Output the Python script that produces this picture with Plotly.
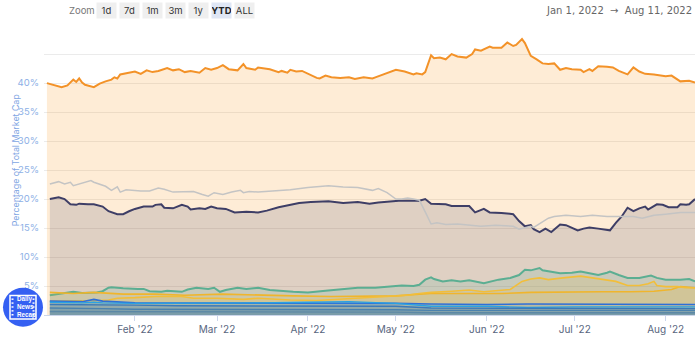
import plotly.graph_objects as go

# ---------------- data (percent of total market cap) ----------------
btc_dates = ["01-02","01-05","01-07","01-09","01-11","01-12","01-13","01-14","01-15","01-18","01-20","01-22","01-24","01-25","01-26","01-27","01-30",
             "02-01","02-03","02-05","02-07","02-09","02-12","02-14","02-16","02-18","02-20","02-23","02-25","02-27",
             "03-01","03-03","03-05","03-08","03-10","03-11","03-14","03-15","03-19","03-22","03-23","03-25","03-26","03-28","03-30",
             "04-01","04-04","04-05","04-07","04-09","04-12","04-15","04-17","04-20","04-23","04-24","04-26","04-29",
             "05-01","05-04","05-07","05-08","05-10","05-11","05-13","05-14","05-16","05-18","05-20","05-22","05-25","05-27","05-28","05-30",
             "06-02","06-03","06-06","06-08","06-10","06-11","06-13","06-14","06-16","06-18","06-20","06-22","06-24","06-26","06-28","06-30",
             "07-03","07-04","07-06","07-07","07-09","07-12","07-14","07-16","07-19","07-21","07-23","07-25","07-28",
             "08-01","08-03","08-06","08-09","08-11"]
btc_vals = [40.0,39.5,39.3,39.6,40.6,40.2,40.8,40.1,39.7,39.3,39.9,40.3,40.6,41.0,40.8,41.5,41.8,
            42.0,41.6,42.2,41.9,42.1,42.6,42.2,42.4,41.9,42.1,41.8,42.6,42.3,
            42.6,43.1,42.4,42.2,43.3,42.6,42.3,42.7,42.4,41.9,42.1,41.8,42.3,42.0,42.1,
            41.6,40.9,40.8,41.3,41.0,40.9,41.0,40.7,41.0,40.8,41.0,41.4,42.0,
            42.3,42.0,41.5,41.7,41.5,41.9,44.8,44.3,44.4,44.1,45.0,44.6,44.4,45.0,45.8,45.6,
            46.3,46.1,46.1,47.0,46.4,46.6,47.6,46.9,44.7,44.1,43.4,43.3,43.4,42.3,42.6,42.4,
            42.3,41.9,42.4,42.1,42.9,42.8,42.7,42.1,41.5,42.7,42.0,41.6,41.5,
            41.2,41.3,40.3,40.4,40.1]

eth_dates = ["01-03","01-06","01-08","01-10","01-12","01-13","01-16","01-18","01-21","01-23","01-26","01-28","01-30",
             "02-01","02-04","02-07","02-08","02-10","02-11","02-14","02-17","02-19","02-20","02-23","02-25","02-27",
             "03-01","03-04","03-07","03-11","03-15","03-18","03-22","03-26","03-29",
             "04-02","04-08","04-13","04-18","04-22","04-25",
             "05-02","05-09","05-11","05-13","05-18","05-20","05-26","05-28","05-31",
             "06-02","06-06","06-10","06-12","06-14","06-16","06-17","06-19","06-21","06-23","06-26","06-28",
             "07-02","07-04","07-06","07-09","07-13","07-15","07-17","07-19","07-21","07-23","07-25","07-26","07-29","07-31",
             "08-02","08-05","08-06","08-08","08-09","08-11"]
eth_vals = [20.0,20.3,20.0,19.1,19.0,19.2,19.1,19.1,18.7,17.9,17.4,17.4,17.9,
            18.3,18.7,18.7,19.0,19.1,18.5,18.4,19.0,18.7,18.2,18.4,18.3,18.7,
            18.4,18.3,17.7,17.8,17.7,18.0,18.6,19.0,19.3,
            19.5,19.6,19.3,19.5,19.2,19.4,
            19.7,19.7,20.0,19.2,19.1,18.8,18.8,17.7,18.3,
            17.7,17.6,17.4,16.2,15.3,15.5,14.8,14.3,14.9,14.3,15.6,15.5,
            14.6,14.9,15.1,14.9,14.6,15.9,17.0,18.5,17.9,18.4,18.7,18.2,19.1,19.0,
            18.6,18.6,19.1,19.0,19.1,20.0]

oth_dates = ["01-03","01-06","01-08","01-10","01-11","01-14","01-17","01-18","01-20","01-22","01-24","01-26","01-27","01-29",
             "02-03","02-06","02-09","02-11","02-14","02-19","02-21","02-24","02-26","02-28",
             "03-03","03-06","03-09","03-10","03-12","03-15","03-19","03-26",
             "04-01","04-08","04-13","04-18","04-23","04-25","04-28",
             "05-01","05-03","05-05","05-07","05-09","05-11","05-13","05-15","05-18","05-22","05-26","05-30",
             "06-04","06-10","06-12","06-14","06-16","06-17","06-19","06-22","06-24","06-28",
             "07-03","07-07","07-12","07-16","07-21","07-24","07-28",
             "08-01","08-06","08-11"]
oth_vals = [22.6,23.0,22.6,22.9,22.3,22.8,23.2,22.9,22.6,22.2,21.5,22.1,21.2,21.6,
            21.4,21.4,21.9,21.7,21.2,21.2,21.3,20.8,20.5,21.1,
            20.8,21.2,21.5,21.1,21.3,21.2,21.3,21.6,
            22.0,22.3,22.1,22.0,21.5,21.8,21.1,
            20.0,20.0,20.2,20.0,19.8,17.8,15.7,15.9,15.6,15.7,15.5,15.3,
            15.5,15.3,14.8,15.1,15.3,15.1,15.7,16.7,17.0,17.2,
            17.0,17.2,17.0,17.0,17.0,16.7,17.2,
            17.4,17.7,17.7]

usdt_dates = ["01-03","01-07","01-11","01-14","01-19","01-21","01-23","01-24","01-28",
              "02-02","02-04","02-06","02-10","02-12","02-17","02-19","02-22","02-26","02-28",
              "03-02","03-04","03-08","03-11","03-15","03-19","03-27",
              "04-01","04-07","04-13","04-18","04-24","04-28",
              "05-03","05-07","05-09","05-11","05-13","05-14","05-17","05-20","05-23","05-26","05-31",
              "06-05","06-09","06-12","06-14","06-16","06-18","06-19","06-20","06-23","06-26","06-30",
              "07-03","07-06","07-09","07-12","07-13","07-16","07-19","07-23","07-25","07-27","07-29",
              "08-01","08-06","08-09","08-11"]
usdt_vals = [3.4,3.7,4.0,3.8,3.9,4.1,4.7,4.8,4.6,
             4.5,4.5,4.1,4.0,4.2,4.0,4.4,4.7,4.5,4.7,
             4.0,4.3,4.7,4.5,4.7,4.3,4.0,
             3.9,4.2,4.5,4.7,4.7,4.9,
             5.1,5.0,5.2,6.1,6.5,6.2,5.8,6.0,5.8,6.0,5.5,
             6.1,6.4,6.9,7.8,7.7,7.9,8.1,7.7,7.5,7.2,7.3,
             7.5,7.2,6.9,7.3,7.5,6.9,6.4,6.4,6.6,6.8,6.4,
             6.1,6.1,6.2,5.8]

bnb_dates = ["01-03","01-11","01-18","01-28","02-08","02-18","03-03","03-15","03-27","04-09","04-20",
             "05-01","05-09","05-13","05-20","05-26","06-06","06-16","06-28","07-10","07-20","07-28",
             "08-03","08-06","08-11"]
bnb_vals = [3.9,3.7,3.9,3.6,3.6,3.4,3.6,3.4,3.3,3.2,3.3,
            3.3,3.6,3.7,3.7,3.7,3.7,3.9,4.0,4.0,4.0,4.1,
            4.4,4.9,4.7]

usdc_dates = ["01-03","01-15","01-20","01-23","01-26","02-01","02-08","02-17","02-21","03-01","03-10","03-15","03-26",
              "04-04","04-12","04-22","04-29","05-05","05-09","05-13","05-20","05-26","05-31",
              "06-05","06-09","06-13","06-16","06-19","06-22","06-27",
              "07-03","07-07","07-12","07-15","07-19","07-23","07-26","07-28","07-29",
              "08-01","08-05","08-08","08-11"]
usdc_vals = [2.4,2.4,2.5,2.6,2.9,3.0,3.2,3.2,2.9,2.9,2.7,2.9,2.6,
             2.5,2.7,3.0,3.2,3.4,3.7,3.9,4.1,4.3,4.0,
             4.2,4.4,5.8,6.2,6.4,6.1,6.4,
             6.7,6.4,6.1,5.8,5.1,5.1,5.4,5.8,5.1,
             4.9,4.9,4.7,4.7]

small_dates = ["01-03","01-14","01-18","01-21","02-01","02-15","03-01","03-15","04-01","04-15",
               "05-01","05-13","06-01","06-15","07-01","07-15","08-01","08-11"]
xrp_vals  = [2.4,2.3,2.7,2.4,2.1,2.1,2.0,2.0,2.1,2.0,2.0,1.9,1.8,1.9,1.9,1.9,1.8,1.8]
ada_vals  = [2.2,2.1,2.2,2.1,2.0,2.0,2.0,2.1,2.2,2.3,2.0,1.5,1.5,1.3,1.4,1.4,1.4,1.4]
sol_vals  = [1.8,1.8,1.8,1.7,1.7,1.6,1.6,1.6,1.6,1.6,1.5,1.2,1.2,1.1,1.1,1.1,1.1,1.1]
doge_vals = [1.2,1.2,1.1,1.1,1.0,1.0,1.0,0.9,0.9,0.9,0.9,0.8,0.8,0.8,0.8,0.8,0.8,0.8]
dot_vals  = [0.6,0.6,0.6,0.5,0.5,0.5,0.5,0.5,0.5,0.5,0.5,0.4,0.4,0.4,0.4,0.4,0.4,0.4]

y_tick_vals = [5, 10, 15, 20, 25, 30, 35, 40, 45]
y_tick_text = ["5%", "10%", "15%", "20%", "25%", "30%", "35%", "40%", ""]
zoom_buttons = ["1d", "7d", "1m", "3m", "1y", "YTD", "ALL"]
active_button = "YTD"

# ---------------- figure ----------------
W, H = 700, 340
ML, MR, MT, MB = 44, 5, 30, 17
Y_MAX = 49.16


def full(ds):
    return ["2022-" + s for s in ds]


def px(x):
    return (x - ML) / (W - ML - MR)


def py(y):
    return (H - MB - y) / (H - MT - MB)


series = [
    (btc_dates, btc_vals, "Bitcoin", "#F39228", 2.0, "rgba(247,147,26,0.18)"),
    (eth_dates, eth_vals, "Ethereum", "#3E3E66", 2.0, "rgba(62,62,100,0.16)"),
    (oth_dates, oth_vals, "Others", "#C4C4C4", 1.5, None),
    (usdt_dates, usdt_vals, "Tether", "#5BAE92", 2.0, "rgba(80,175,149,0.16)"),
    (bnb_dates, bnb_vals, "BNB", "#F0B52C", 1.6, "rgba(243,186,47,0.13)"),
    (usdc_dates, usdc_vals, "USD Coin", "#F2BE3A", 1.6, "rgba(243,186,47,0.13)"),
    (small_dates, xrp_vals, "XRP", "#2F6FD8", 1.6, "rgba(47,111,216,0.14)"),
    (small_dates, ada_vals, "Cardano", "#2AA2E2", 1.4, "rgba(42,162,226,0.14)"),
    (small_dates, sol_vals, "Solana", "#3C79B8", 1.4, "rgba(60,121,184,0.18)"),
    (small_dates, doge_vals, "Dogecoin", "#4A82AE", 1.4, "rgba(74,130,174,0.2)"),
    (small_dates, dot_vals, "Polkadot", "#5B88A6", 1.4, "rgba(91,136,166,0.2)"),
]

fig = go.Figure()
for ds, vs, name, col, lw, fc in series:
    fig.add_trace(go.Scatter(
        x=full(ds), y=vs, name=name, mode="lines",
        line=dict(color=col, width=lw),
        fill="tozeroy" if fc else None,
        fillcolor=fc,
        hoverinfo="skip",
    ))

FONT = "Inter, Roboto, Arial, sans-serif"

fig.update_layout(
    width=W, height=H,
    margin=dict(l=ML, r=MR, t=MT, b=MB, pad=0),
    paper_bgcolor="white", plot_bgcolor="white",
    showlegend=False,
    font=dict(family=FONT, size=10, color="#555"),
    xaxis=dict(
        type="date",
        range=["2022-01-01", "2022-08-11"],
        tickvals=["2022-02-01", "2022-03-01", "2022-04-01", "2022-05-01",
                  "2022-06-01", "2022-07-01", "2022-08-01"],
        tickformat="%b '%y",
        showgrid=False,
        ticks="outside", ticklen=5, tickcolor="#ccd6eb", tickwidth=1,
        showline=True, linecolor="#ccd6eb", linewidth=1,
        tickfont=dict(size=10, color="#58667e"),
        zeroline=False,
    ),
    yaxis=dict(
        range=[0, Y_MAX],
        tickvals=y_tick_vals, ticktext=y_tick_text,
        showgrid=True, gridcolor="#ebebeb", gridwidth=1,
        zeroline=False, showline=False,
        tickfont=dict(size=9.5, color="#8DB0E6"),
        ticklabelstandoff=4,
    ),
)

# y-axis title
fig.add_annotation(
    text="Percentage of Total Market Cap", textangle=-90,
    xref="paper", yref="paper", x=px(15), y=py(164),
    showarrow=False, font=dict(size=8.8, color="#7FA6E3", family=FONT),
    xanchor="center", yanchor="middle",
)

# zoom toolbar
fig.add_annotation(text="Zoom", xref="paper", yref="paper", x=px(82), y=py(10),
                   showarrow=False, font=dict(size=9.5, color="#777", family=FONT),
                   xanchor="center", yanchor="middle")
bx = 96
for lab in zoom_buttons:
    active = lab == active_button
    fig.add_annotation(
        text=("<b>%s</b>" % lab) if active else lab,
        xref="paper", yref="paper", x=px(bx + 10), y=py(10),
        showarrow=False, width=19, height=15, align="center", valign="middle",
        bgcolor="#DFE6F4" if active else "#EFEFEF",
        font=dict(size=9.5, color="#222" if active else "#333", family=FONT),
        xanchor="center", yanchor="middle", borderpad=0,
    )
    bx += 23

# date range text
fig.add_annotation(text="Jan 1, 2022  \u2192  Aug 11, 2022", xref="paper", yref="paper",
                   x=px(694), y=py(10), showarrow=False,
                   font=dict(size=10, color="#666", family="DejaVu Sans, sans-serif"),
                   xanchor="right", yanchor="middle")

# logo
shapes = []
shapes.append(dict(type="circle", xref="paper", yref="paper",
                   x0=px(3), x1=px(43), y0=py(335), y1=py(295),
                   fillcolor="#3560F2", line=dict(width=0), layer="above"))
shapes.append(dict(type="rect", xref="paper", yref="paper",
                   x0=px(10), x1=px(36), y0=py(327), y1=py(303),
                   fillcolor="rgba(0,0,0,0)", line=dict(color="white", width=1.5), layer="above"))
for yy in [306, 310, 314, 318, 322]:
    for xx in (11.5, 32.5):
        shapes.append(dict(type="rect", xref="paper", yref="paper",
                           x0=px(xx), x1=px(xx + 2), y0=py(yy + 1.5), y1=py(yy),
                           fillcolor="white", line=dict(width=0), layer="above"))
fig.update_layout(shapes=shapes)
fig.add_annotation(text="<b>Daily<br>News<br>Recap</b>", xref="paper", yref="paper",
                   x=px(15), y=py(315), showarrow=False, align="left",
                   font=dict(size=6.3, color="white", family="Arial, sans-serif"),
                   xanchor="left", yanchor="middle")

fig.write_html("out.html", config={"displayModeBar": False})
